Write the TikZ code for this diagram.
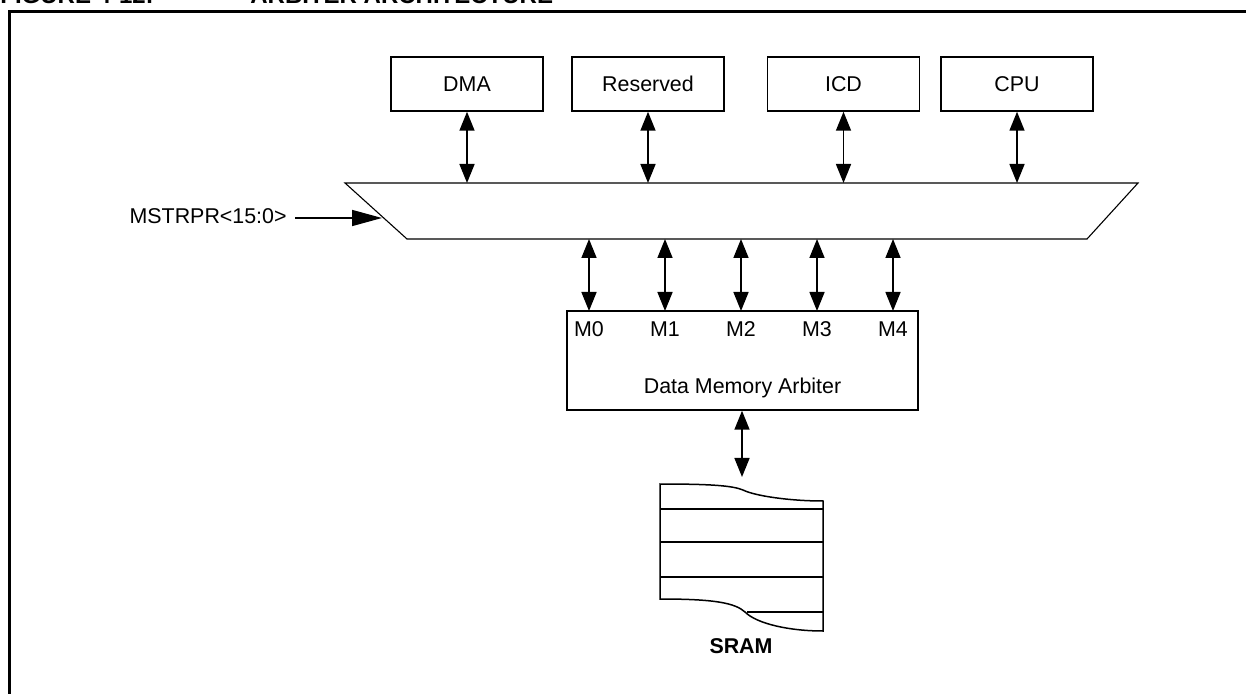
\documentclass[tikz,border=0pt]{standalone}
\usepackage{fontspec}
\setmainfont{Liberation Sans}
\usetikzlibrary{arrows.meta}
\begin{document}
\begin{tikzpicture}[x=0.5pt,y=-0.5pt,
  every node/.style={font=\fontsize{10.7}{12}\selectfont, inner sep=0pt},
  blk/.style={draw, line width=0.75pt, minimum width=76pt, minimum height=27pt},
  dbl/.style={line width=0.8pt, {Triangle[length=9.5pt,width=7.5pt]}-{Triangle[length=9.5pt,width=7.5pt]}},
  inarrow/.style={line width=0.8pt, -{Triangle[length=15pt,width=8pt]}},
  thin/.style={line width=0.55pt},
  frame/.style={line width=1.35pt},
  ttl/.style={anchor=base west, font=\fontsize{12}{14}\selectfont\bfseries}]
\useasboundingbox (0,0) rectangle (1246,694);
\clip (0,0) rectangle (1246,694);
% title (cut off at the top, as in the reference)
\node[ttl] (t1) at (0,4) {FIGURE 4-12:};
\node[ttl] (t2) at (250,4) {ARBITER ARCHITECTURE};
% frame
\draw[frame] (9.5,720) -- (9.5,11.5) -- (1260,11.5);
% masters
\node[blk] (dma) at (467,84) {DMA};
\node[blk] (res) at (648,84) {Reserved};
\node[blk] (icd) at (843.5,84) {ICD};
\node[blk] (cpu) at (1017,84) {CPU};
% bus trapezoid
\coordinate (bTL) at (345,183);
\coordinate (bTR) at (1138,183);
\coordinate (bBR) at (1087,239);
\coordinate (bBL) at (407,239);
\draw[thin] (bTL) -- (bTR) -- (bBR) -- (bBL) -- cycle;
\foreach \n in {dma,res,icd,cpu}{
  \draw[dbl] (\n.south) -- (\n.south |- bTL);
}
% MSTRPR input
\node[anchor=east] (ms) at (287,216) {MSTRPR<15:0>};
\coordinate (msin) at (382,218);
\draw[inarrow] (ms.east) ++(8,2) coordinate (msout) -- (msin);
% arbiter
\node[draw, line width=0.75pt, minimum width=175.5pt, minimum height=49.5pt] (arb) at (742.5,360.5) {};
\node (arbl) at (742.5,388) {Data Memory Arbiter};
\foreach \i/\x in {0/589,1/665,2/741,3/817,4/893}{
  \node (m\i) at (\x,329) {M\i};
  \coordinate (bm\i) at (\x,239);
  \coordinate (am\i) at (\x,311);
  \draw[dbl] (bm\i) -- (am\i);
}
% SRAM
\coordinate (sramtop) at (742,477);
\draw[dbl] (arb.south -| sramtop) -- (sramtop);
\draw[line width=0.75pt] (823,501) .. controls (790,501) and (755,496) .. (743,490)
   .. controls (733,486) and (715,484) .. (660,484) -- (660,599)
   .. controls (715,599) and (735,603) .. (745,612)
   .. controls (757,624) and (790,631) .. (823,631) -- cycle;
\foreach \y in {509,542,577}{ \draw[line width=0.75pt] (660,\y) -- (823,\y); }
\draw[line width=0.75pt] (747,612) -- (823,612);
\node[font=\fontsize{10.7}{12}\selectfont\bfseries] (sram) at (741,646) {SRAM};
\end{tikzpicture}
\end{document}
